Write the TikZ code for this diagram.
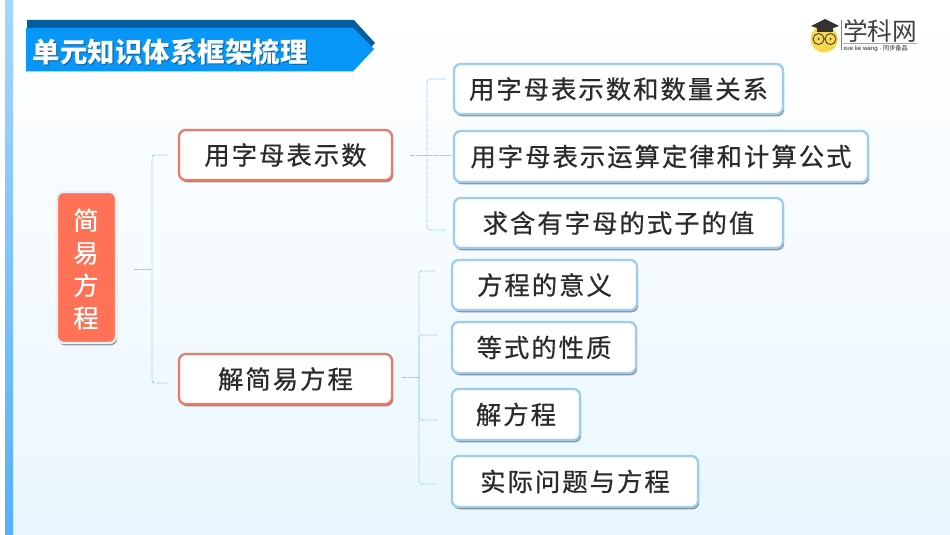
\documentclass[tikz,border=0pt]{standalone}
\usepackage{fontspec}
\setmainfont{Noto Sans CJK SC}
\newfontfamily\boxfont[LetterSpace=8,FakeBold=0.6]{Noto Sans CJK SC}
\newfontfamily\logofont{Noto Sans CJK SC}
\newfontfamily\latinfont{Liberation Sans}
\usetikzlibrary{shadows,calc}
\definecolor{salmon}{HTML}{FF7255}
\definecolor{salmonedge}{HTML}{E87A66}
\definecolor{skyedge}{HTML}{9CCDEE}
\definecolor{dashblue}{HTML}{96CDEE}
\definecolor{ribbon}{HTML}{0897F8}
\definecolor{ribbondark}{HTML}{045E9E}
\definecolor{inktext}{HTML}{2B2B2B}
\definecolor{bgbottom}{HTML}{E9F6FF}
\definecolor{striptop}{HTML}{A5D6FD}
\definecolor{stripbottom}{HTML}{55B0FA}
\definecolor{logoyellow}{HTML}{F8D84A}
\tikzset{
  x=0.75pt,y=-0.75pt,
  softshadow/.style={drop shadow={shadow xshift=0.9pt,shadow yshift=-1.7pt,fill=black,opacity=.42}},
  box/.style={rounded corners=5pt,fill=white,line width=1.7pt,softshadow,text=inktext,
    font=\boxfont\fontsize{19}{22}\selectfont,inner sep=0pt,align=center},
  leafbox/.style={box,draw=skyedge},
  midbox/.style={box,draw=salmonedge},
  rootbox/.style={box,fill=salmon,draw=white!75!skyedge,text=white},
  link/.style={draw=dashblue,line width=0.6pt,dash pattern=on 3.5pt off 1pt,rounded corners=2pt}
}
\newcommand{\bx}[7]{\node[#1,minimum width=#4*0.75pt-#2*0.75pt,minimum height=#5*0.75pt-#3*0.75pt] (#6) at ({(#2+#4)/2},{(#3+#5)/2}) {#7};}
\begin{document}
\begin{tikzpicture}
\useasboundingbox (0,0) rectangle (950,535);
\shade[top color=white,bottom color=bgbottom,middle color=white!55!bgbottom] (0,0) rectangle (950,535);
\fill[white] (0,0) rectangle (5,535);
\shade[top color=striptop,bottom color=stripbottom] (5,0) rectangle (13,535);
% title
\fill[ribbondark] (27,20) -- (354,20) -- (375,43) -- (368,50) -- (27,50) -- cycle;
\fill[ribbon] (26,28) -- (353,28) -- (374,49) -- (353,71.5) -- (26,71.5) -- cycle;
\node[font=\bfseries\fontsize{20.6}{24}\selectfont,text=black!35!ribbon,anchor=west,inner sep=0pt] (titleshadow) at (33.6,52.6) {单元知识体系框架梳理};
\node[font=\bfseries\fontsize{20.6}{24}\selectfont,text=white,anchor=west,inner sep=0pt] (title) at (32.6,51.6) {单元知识体系框架梳理};
% logo
\fill[logoyellow] (824,39) circle (13.5);
\fill[black!80] (811,26) -- (825,19) -- (839,26) -- (825,31) -- cycle;
\fill[black!80] (817,28) -- (833,28) -- (833,32) -- (817,32) -- cycle;
\draw[black!80,line width=0.6pt] (818.5,39) circle (5.5) (830.5,39) circle (5.5);
\fill[black!80] (818.5,39) circle (1) (830.5,39) circle (1);
\draw[black!50,line width=0.4pt] (841,20) -- (841,50);
\node[font=\fontsize{18.5}{20}\selectfont,text=black!75,anchor=west,inner sep=0pt] (logotext) at (843,31) {学科网};
\draw[black!35,line width=0.3pt] (843,43) -- (917,43);
\node[font=\latinfont\fontsize{4.6}{5}\selectfont,text=black!85,anchor=west,inner sep=0pt] (logosub) at (843,48.5) {xue ke wang · {\logofont 同步备品}};
% nodes
\bx{rootbox}{57}{192}{116}{343}{root}{}
\node[text=white,font=\boxfont\fontsize{19}{24.4}\selectfont,align=center,inner sep=0pt] (rootlabel) at (86,269) {简\\易\\方\\程};
\bx{midbox}{179}{130}{392}{180}{m1}{用字母表示数}
\bx{midbox}{179}{354}{392}{404}{m2}{解简易方程}
\bx{leafbox}{454}{64}{783}{114}{a1}{用字母表示数和数量关系}
\bx{leafbox}{454}{131}{868}{182}{a2}{用字母表示运算定律和计算公式}
\bx{leafbox}{454}{198}{783}{248}{a3}{求含有字母的式子的值}
\bx{leafbox}{452}{260}{637}{310}{b1}{方程的意义}
\bx{leafbox}{452}{322}{636}{373}{b2}{等式的性质}
\bx{leafbox}{452}{389}{580}{440}{b3}{解方程}
\bx{leafbox}{452}{456}{698}{507}{b4}{实际问题与方程}
% connector ends
\coordinate (r0) at (134,269); \coordinate (rj) at (152,269);
\coordinate (r1) at (168,155); \coordinate (r2) at (168,383);
\coordinate (p0) at (410,155); \coordinate (pj) at (427,155);
\coordinate (p1) at (445,79); \coordinate (p2) at (454,155); \coordinate (p3) at (445,230);
\coordinate (q0) at (402,377); \coordinate (qj) at (419,377);
\coordinate (q1) at (435,271); \coordinate (q2) at (437,335); \coordinate (q3) at (437,420); \coordinate (q4) at (436,484);
\draw[link] (r0) -- (rj);
\draw[link] (r1) -| (rj) |- (r2);
\draw[link] (p0) -- (p2);
\draw[link] (p1) -| (pj) |- (p3);
\draw[link] (q0) -- (qj);
\draw[link] (q1) -| (qj) |- (q4);
\draw[link] (q2) -| (qj) |- (q3);
\end{tikzpicture}
\end{document}
